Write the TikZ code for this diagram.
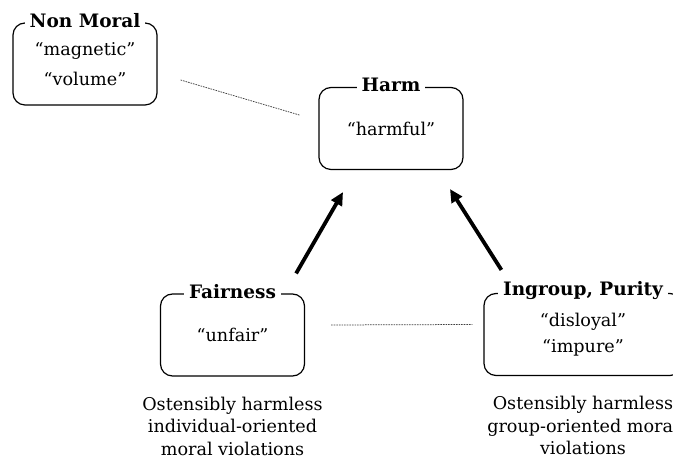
\documentclass[tikz,border=0pt]{standalone}
\usepackage{fontspec}
\setmainfont{DejaVu Serif}
\usetikzlibrary{positioning,arrows.meta}

\begin{document}
\begin{tikzpicture}[x=1bp,y=1bp,
  font=\fontsize{17.6bp}{22.5bp}\selectfont,
  moralbox/.style={draw,rounded corners=12bp,line width=1.2bp,align=center,minimum width=144bp,minimum height=82bp},
  boxtitle/.style={fill=white,font=\fontsize{18.5bp}{20bp}\selectfont\bfseries,inner xsep=5bp,inner ysep=1bp,yshift=2bp},
  link/.style={dash pattern=on 1.6bp off 1bp,line width=0.75bp,black!75},
  pull/.style={line width=3.8bp,-{Triangle[length=13bp,width=12bp]}},
  note/.style={align=center}]
\path[use as bounding box] (0,0) rectangle (673,464);
\clip (0,0) rectangle (673,464);

\node[moralbox] (nonmoral) at (85,400) {“magnetic”\\[7.5bp]“volume”};
\node[moralbox] (harm) at (391,335.5) {“harmful”};
\node[moralbox] (fair) at (232.5,129) {“unfair”};
\node[moralbox,minimum width=198bp] (ingroup) at (583,129.5) {“disloyal”\\[3.5bp]“impure”};

\node[boxtitle] (nonmoraltitle) at (nonmoral.north) {Non Moral};
\node[boxtitle] (harmtitle) at (harm.north) {Harm};
\node[boxtitle] (fairtitle) at (fair.north) {Fairness};
\node[boxtitle] (ingrouptitle) at (ingroup.north) {Ingroup, Purity};

\node[note,below=17bp of fair] (fairnote) {Ostensibly harmless\\individual-oriented\\moral violations};
\node[note,below=17bp of ingroup] (ingroupnote) {Ostensibly harmless\\group-oriented moral\\violations};

\draw[pull] ([shift={(-9,20)}]fair.north east) -- ([shift={(-48,-22)}]harm.south);
\draw[pull] ([shift={(18,23)}]ingroup.north west) -- ([shift={(59,-19)}]harm.south);

\draw[link] ([shift={(23,-16)}]nonmoral.east) -- ([shift={(-19,13.5)}]harm.west);
\draw[link] ([shift={(26,10)}]fair.east) -- ([shift={(-11,10)}]ingroup.west);
\end{tikzpicture}
\end{document}
